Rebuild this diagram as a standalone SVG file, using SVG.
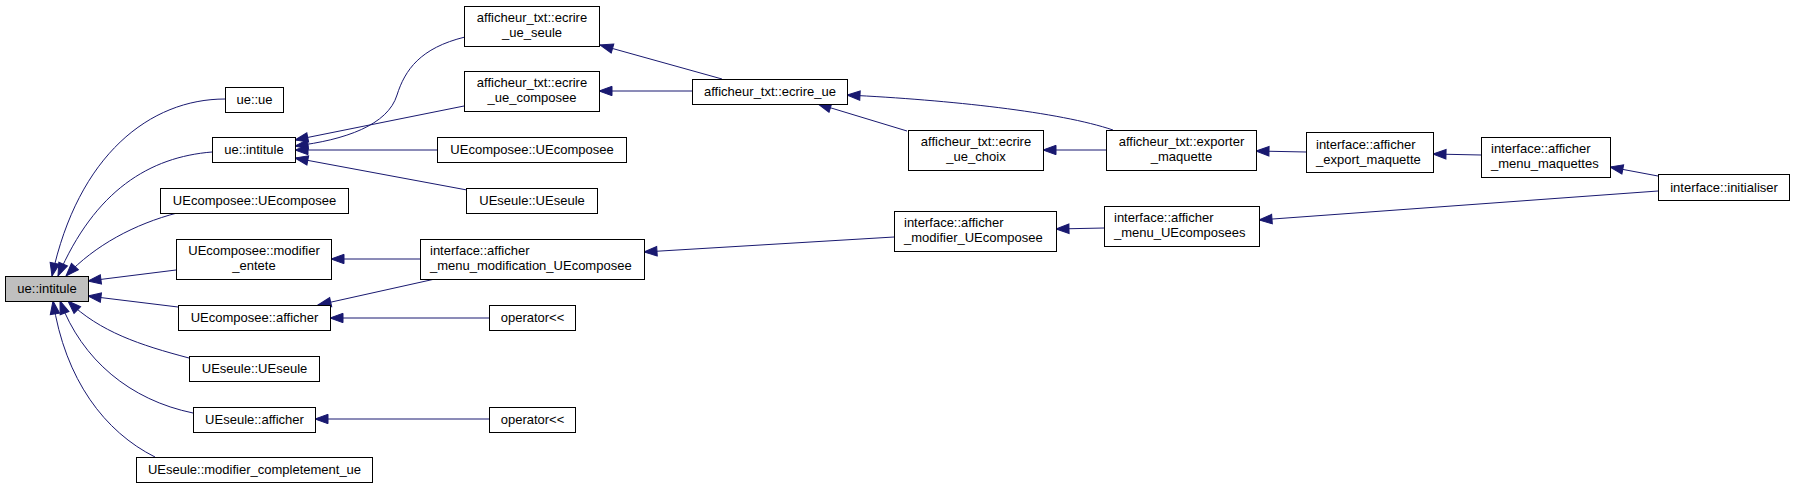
<svg xmlns="http://www.w3.org/2000/svg" width="1795" height="489" viewBox="0 0 1795 489">
<style>
.n rect{fill:#fff;stroke:#000;stroke-width:1}
.g rect{fill:#bfbfbf}
.n text{font-family:"Liberation Sans",Arial,sans-serif;font-size:13px;fill:#000}
.c{text-anchor:middle}
.e path{fill:none;stroke:#191970;stroke-width:1;marker-end:url(#ah)}
</style>
<defs>
<marker id="ah" markerUnits="userSpaceOnUse" markerWidth="14" markerHeight="10" refX="13" refY="4.7" orient="auto" overflow="visible">
<path d="M0,0 L13,4.7 L0,9.4 z" fill="#191970" stroke="#191970" stroke-width="1"/>
</marker>
</defs>
<rect width="1795" height="489" fill="#fff"/>
<g id="edges" class="e">
<path d="M225,99 C150,99 78,155 52,276"/>
<path d="M212,152 C150,157 95,190 58,276"/>
<path d="M177,213 C135,224 95,245 66,276"/>
<path d="M176,270 L88,281"/>
<path d="M178,307 L88,296"/>
<path d="M189,358 C140,345 100,332 68,301"/>
<path d="M193,413 C130,400 82,360 60,301"/>
<path d="M155,457 C105,432 65,380 53,301"/>
<path d="M465,37 C420,48 405,70 397,95 C388,125 345,140 295,146"/>
<path d="M464,106 L295,140"/>
<path d="M437,150 L295,150"/>
<path d="M467,190 L295,158"/>
<path d="M722,79 L600,45"/>
<path d="M692,91 L599,91"/>
<path d="M907,131 L818,104"/>
<path d="M1113,130 C1060,112 950,100 847,95"/>
<path d="M1106,150 L1043,150"/>
<path d="M1306,152 L1256,151"/>
<path d="M1481,155 L1433,154"/>
<path d="M1658,176 L1610,167"/>
<path d="M1658,191 L1259,220"/>
<path d="M1104,228 L1056,229"/>
<path d="M894,237 L644,252"/>
<path d="M420,259 L331,259"/>
<path d="M435,279 L318,305"/>
<path d="M489,318 L330,318"/>
<path d="M489,419 L315,419"/>
</g>
<g id="n0" class="n g"><rect x="5.5" y="276.5" width="83" height="25"/><text class="c" x="47" y="293">ue::intitule</text></g>
<g id="n1" class="n"><rect x="225.5" y="87.5" width="58" height="25"/><text class="c" x="254.5" y="104">ue::ue</text></g>
<g id="n2" class="n"><rect x="212.5" y="137.5" width="83" height="25"/><text class="c" x="254" y="154">ue::intitule</text></g>
<g id="n3" class="n"><rect x="160.5" y="188.5" width="188" height="25"/><text class="c" x="254.5" y="205">UEcomposee::UEcomposee</text></g>
<g id="n4" class="n"><rect x="176.5" y="239.5" width="155" height="40"/><text class="c" x="254" y="255">UEcomposee::modifier</text><text class="c" x="254" y="270">_entete</text></g>
<g id="n5" class="n"><rect x="178.5" y="305.5" width="152" height="25"/><text class="c" x="254.5" y="322">UEcomposee::afficher</text></g>
<g id="n6" class="n"><rect x="189.5" y="356.5" width="130" height="25"/><text class="c" x="254.5" y="373">UEseule::UEseule</text></g>
<g id="n7" class="n"><rect x="193.5" y="407.5" width="122" height="25"/><text class="c" x="254.5" y="424">UEseule::afficher</text></g>
<g id="n8" class="n"><rect x="136.5" y="457.5" width="236" height="25"/><text class="c" x="254.5" y="474">UEseule::modifier_completement_ue</text></g>
<g id="n9" class="n"><rect x="464.5" y="6.5" width="135" height="40"/><text class="c" x="532" y="22">afficheur_txt::ecrire</text><text class="c" x="532" y="37">_ue_seule</text></g>
<g id="n10" class="n"><rect x="464.5" y="71.5" width="135" height="40"/><text class="c" x="532" y="87">afficheur_txt::ecrire</text><text class="c" x="532" y="102">_ue_composee</text></g>
<g id="n11" class="n"><rect x="437.5" y="137.5" width="189" height="25"/><text class="c" x="532" y="154">UEcomposee::UEcomposee</text></g>
<g id="n12" class="n"><rect x="466.5" y="188.5" width="131" height="25"/><text class="c" x="532" y="205">UEseule::UEseule</text></g>
<g id="n13" class="n"><rect x="420.5" y="239.5" width="224" height="40"/><text x="430" y="255">interface::afficher</text><text x="430" y="270">_menu_modification_UEcomposee</text></g>
<g id="n14" class="n"><rect x="489.5" y="305.5" width="86" height="25"/><text class="c" x="532.5" y="322">operator&lt;&lt;</text></g>
<g id="n15" class="n"><rect x="489.5" y="407.5" width="86" height="25"/><text class="c" x="532.5" y="424">operator&lt;&lt;</text></g>
<g id="n16" class="n"><rect x="692.5" y="79.5" width="155" height="25"/><text class="c" x="770" y="96">afficheur_txt::ecrire_ue</text></g>
<g id="n17" class="n"><rect x="908.5" y="130.5" width="135" height="40"/><text class="c" x="976" y="146">afficheur_txt::ecrire</text><text class="c" x="976" y="161">_ue_choix</text></g>
<g id="n18" class="n"><rect x="1106.5" y="130.5" width="150" height="40"/><text class="c" x="1181.5" y="146">afficheur_txt::exporter</text><text class="c" x="1181.5" y="161">_maquette</text></g>
<g id="n19" class="n"><rect x="894.5" y="211.5" width="162" height="40"/><text x="904" y="227">interface::afficher</text><text x="904" y="242">_modifier_UEcomposee</text></g>
<g id="n20" class="n"><rect x="1104.5" y="206.5" width="155" height="40"/><text x="1114" y="222">interface::afficher</text><text x="1114" y="237">_menu_UEcomposees</text></g>
<g id="n21" class="n"><rect x="1306.5" y="132.5" width="127" height="40"/><text x="1316" y="149">interface::afficher</text><text x="1316" y="164">_export_maquette</text></g>
<g id="n22" class="n"><rect x="1481.5" y="137.5" width="129" height="40"/><text x="1491" y="153">interface::afficher</text><text x="1491" y="168">_menu_maquettes</text></g>
<g id="n23" class="n"><rect x="1658.5" y="174.5" width="131" height="26"/><text class="c" x="1724" y="192">interface::initialiser</text></g>
</svg>
